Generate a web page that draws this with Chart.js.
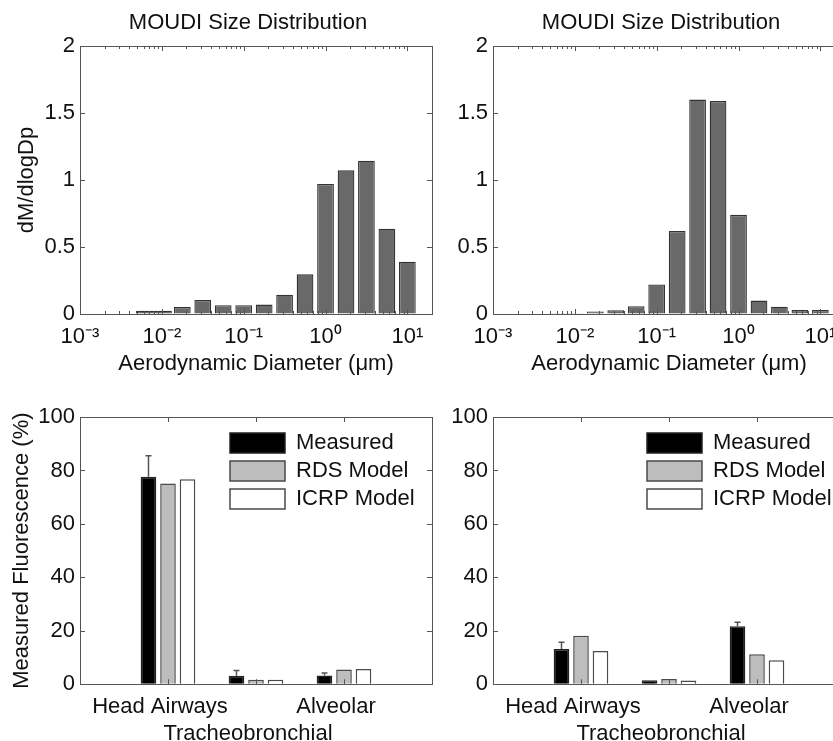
<!DOCTYPE html>
<html lang="en">
<head>
<meta charset="UTF-8">
<title>MOUDI Size Distribution</title>
<script src="https://cdn.jsdelivr.net/npm/chart.js@4.4.0/dist/chart.umd.min.js"></script>
<style>
  body { margin: 0; width: 833px; height: 741px; overflow: hidden; background: #fff; position: relative; }
  canvas { position: absolute; }
</style>
</head>
<body>
<canvas id="sizeA" width="496" height="380" style="left:0;top:0"></canvas>
<canvas id="sizeB" width="444" height="380" style="left:440px;top:0"></canvas>
<canvas id="depA" width="496" height="377" style="left:0;top:380px"></canvas>
<canvas id="depB" width="444" height="377" style="left:440px;top:380px"></canvas>
<script>
// MOUDI stage midpoints (um); first stage is the wide lowest bin
const wideBin = [0.008];
const stageDiam = [0.0178, 0.0316, 0.0562, 0.1, 0.178, 0.316, 0.562, 1, 1.78, 3.16, 5.62, 10];
const wideA = [0.024];
const distA = [0.052, 0.104, 0.066, 0.066, 0.07, 0.144, 0.296, 0.97, 1.072, 1.144, 0.637, 0.39];
const wideB = [0.005];
const distB = [0.018, 0.028, 0.058, 0.22, 0.62, 1.60, 1.59, 0.74, 0.10, 0.055, 0.03, 0.03];
const decadeTicks = [0.001, 0.01, 0.1, 1, 10];
const decadeLabels = ['10⁻³', '10⁻²', '10⁻¹', '10⁰', '10¹'];

const regions = ['Head Airways', 'Tracheobronchial', 'Alveolar'];
const measuredA = [77.6, 3.2, 3.3];
const measuredErrA = [7.9, 1.9, 0.9];
const rdsA = [75.1, 1.7, 5.5];
const icrpA = [76.7, 1.7, 5.7];
const measuredB = [13.2, 1.5, 21.7];
const measuredErrB = [2.5, 0, 1.5];
const rdsB = [18.1, 1.9, 11.2];
const icrpB = [12.4, 1.4, 9.0];

Chart.defaults.font.family = "'Liberation Sans', Arial, sans-serif";
Chart.defaults.font.size = 22;
Chart.defaults.color = '#111';
Chart.defaults.animation = false;

const AXIS = '#555';

// box round the plot area with inward ticks, like matlab axes
const frame = {
  id: 'frame',
  afterDatasetsDraw(chart, args, opts) {
    const { ctx, chartArea: a } = chart;
    const xs = chart.scales.x, ys = chart.scales.y;
    ctx.save();
    ctx.strokeStyle = AXIS;
    ctx.lineWidth = 1;
    ctx.beginPath();
    ys.ticks.forEach(t => {
      const p = Math.round(ys.getPixelForValue(t.value)) + 0.5;
      ctx.moveTo(a.left, p); ctx.lineTo(a.left + 5, p);
      ctx.moveTo(a.right, p); ctx.lineTo(a.right - 5, p);
    });
    xs.ticks.forEach(t => {
      const p = Math.round(xs.getPixelForValue(t.value)) + 0.5;
      ctx.moveTo(p, a.bottom); ctx.lineTo(p, a.bottom - 5);
      ctx.moveTo(p, a.top); ctx.lineTo(p, a.top + 5);
    });
    if (opts.minor) {
      for (let e = -3; e <= 1; e++) {
        for (let m = 2; m <= 9; m++) {
          const v = m * Math.pow(10, e);
          if (v >= xs.max) continue;
          const p = Math.round(xs.getPixelForValue(v)) + 0.5;
          ctx.moveTo(p, a.bottom); ctx.lineTo(p, a.bottom - 3);
          ctx.moveTo(p, a.top); ctx.lineTo(p, a.top + 3);
        }
      }
    }
    ctx.stroke();
    ctx.strokeRect(Math.round(a.left) + 0.5, Math.round(a.top) + 0.5, Math.round(a.width), Math.round(a.height));
    ctx.restore();
  }
};

// one-sided error bars on the first dataset
const errorBars = {
  id: 'errorBars',
  afterDatasetsDraw(chart, args, opts) {
    const meta = chart.getDatasetMeta(0);
    const vals = chart.data.datasets[0].data;
    const ys = chart.scales.y;
    const ctx = chart.ctx;
    ctx.save();
    ctx.strokeStyle = '#555';
    ctx.lineWidth = 1.5;
    meta.data.forEach((bar, i) => {
      if (!opts.err[i]) return;
      const top = ys.getPixelForValue(vals[i].y + opts.err[i]);
      ctx.beginPath();
      ctx.moveTo(bar.x, bar.y);
      ctx.lineTo(bar.x, top);
      ctx.moveTo(bar.x - 3, top);
      ctx.lineTo(bar.x + 3, top);
      ctx.stroke();
    });
    ctx.restore();
  }
};

// nudge the title sideways, and move the in-area legend to the upper right
const placeBoxes = {
  id: 'placeBoxes',
  afterLayout(chart, args, opts) {
    const a = chart.chartArea;
    if (opts.titleShift && chart.titleBlock) {
      chart.titleBlock.left += opts.titleShift;
      chart.titleBlock.right += opts.titleShift;
    }
    if (opts.legend && chart.legend) {
      chart.legend.left = a.left + opts.legend.dx;
      chart.legend.top = a.top + opts.legend.dy;
    }
  }
};

function sizeChart(id, wide, dist, yTitle, yWidth, padRight) {
  return new Chart(document.getElementById(id), {
    type: 'bar',
    data: {
      datasets: [{
        data: stageDiam.map((d, i) => ({ x: d, y: dist[i] })),
        backgroundColor: '#696969',
        borderColor: '#333',
        borderWidth: 1.3,
        grouped: false,
        categoryPercentage: 1,
        barPercentage: 0.82
      }, {
        data: wideBin.map((d, i) => ({ x: d, y: wide[i] })),
        backgroundColor: '#696969',
        borderColor: '#333',
        borderWidth: 1.3,
        grouped: false,
        categoryPercentage: 1,
        barPercentage: 1.76
      }]
    },
    options: {
      responsive: false,
      layout: { padding: { left: 0, right: padRight, top: 0, bottom: 0 } },
      plugins: {
        legend: { display: false },
        tooltip: { enabled: false },
        title: {
          display: true,
          fullSize: false,
          text: 'MOUDI Size Distribution',
          font: { size: 22, weight: 'normal' },
          padding: { top: 10, bottom: 9.6 }
        },
        placeBoxes: { titleShift: -8 },
        frame: { minor: true }
      },
      scales: {
        x: {
          type: 'logarithmic',
          min: 0.001,
          max: 20,
          offset: false,
          grid: { display: true, drawOnChartArea: false, drawTicks: false },
          border: { display: false },
          afterBuildTicks: s => { s.ticks = decadeTicks.map(v => ({ value: v })); },
          ticks: {
            autoSkip: false,
            maxRotation: 0,
            padding: 10,
            callback: (v, i) => decadeLabels[i]
          },
          title: {
            display: true,
            text: 'Aerodynamic Diameter (μm)',
            padding: { top: -9.6, bottom: 2.8 }
          }
        },
        y: {
          min: 0,
          max: 2,
          ticks: { stepSize: 0.5, padding: 5, callback: v => String(v) },
          grid: { display: true, drawOnChartArea: false, drawTicks: false },
          border: { display: false },
          afterFit: s => { s.width = yWidth; },
          title: {
            display: !!yTitle,
            text: yTitle,
            padding: { top: 13.8, bottom: 0 }
          }
        }
      }
    },
    plugins: [frame, placeBoxes]
  });
}

function depChart(id, meas, err, rds, icrp, yTitle, yWidth, padRight, dx) {
  const pts = arr => arr.map((v, i) => ({ x: i + 1, y: v }));
  return new Chart(document.getElementById(id), {
    type: 'bar',
    data: {
      datasets: [
        { label: 'Measured', data: pts(meas), backgroundColor: '#000', borderColor: '#222', borderWidth: 1.5 },
        { label: 'RDS Model', data: pts(rds), backgroundColor: '#bdbdbd', borderColor: '#4a4a4a', borderWidth: 1.5 },
        { label: 'ICRP Model', data: pts(icrp), backgroundColor: '#fff', borderColor: '#4a4a4a', borderWidth: 1.5 }
      ]
    },
    options: {
      responsive: false,
      layout: { padding: { left: 0, right: padRight, top: 37, bottom: 0 } },
      datasets: { bar: { categoryPercentage: 0.665, barPercentage: 0.8 } },
      plugins: {
        tooltip: { enabled: false },
        legend: {
          position: 'chartArea',
          align: 'start',
          labels: { boxWidth: 55, boxHeight: 20, padding: 6, color: '#111' }
        },
        placeBoxes: { legend: { dx: dx, dy: 9 } },
        errorBars: { err: err }
      },
      scales: {
        x: {
          type: 'linear',
          min: 0,
          max: 4,
          offset: false,
          grid: { display: true, drawOnChartArea: false, drawTicks: false },
          border: { display: false },
          ticks: {
            stepSize: 1,
            autoSkip: false,
            maxRotation: 0,
            padding: 10,
            labelOffset: -8,
            callback: v => {
              const name = regions[v - 1];
              if (!name) return '';
              return v === 2 ? ['', name] : name;
            }
          }
        },
        y: {
          min: 0,
          max: 100,
          ticks: { stepSize: 20, padding: 5 },
          grid: { display: true, drawOnChartArea: false, drawTicks: false },
          border: { display: false },
          afterFit: s => { s.width = yWidth; },
          title: {
            display: !!yTitle,
            text: yTitle,
            padding: { top: 8.8, bottom: 0 }
          }
        }
      }
    },
    plugins: [frame, errorBars, placeBoxes]
  });
}

sizeChart('sizeA', wideA, distA, 'dM/dlogDp', 80, 64);
sizeChart('sizeB', wideB, distB, '', 53, 39);
depChart('depA', measuredA, measuredErrA, rdsA, icrpA, 'Measured Fluorescence (%)', 80, 64, 144);
depChart('depB', measuredB, measuredErrB, rdsB, icrpB, '', 53, 39, 148);
</script>
</body>
</html>
